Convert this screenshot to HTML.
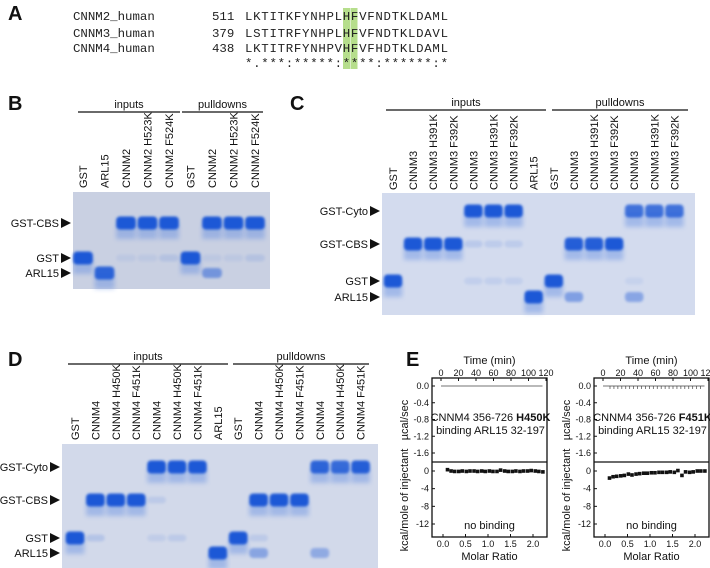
<!DOCTYPE html>
<html><head><meta charset="utf-8"><style>
html,body{margin:0;padding:0;background:#fff;}
svg{display:block;font-family:"Liberation Sans",Arial,sans-serif;}
.mono{font-family:"Liberation Mono","DejaVu Sans Mono",monospace;font-size:12.4px;fill:#222;}
.pl{font-size:20px;font-weight:bold;fill:#111;}
.lb{font-size:11px;fill:#111;}
.tk{font-size:9px;fill:#111;}
</style></head><body>
<svg id="fig" width="710" height="568" viewBox="0 0 710 568" xmlns="http://www.w3.org/2000/svg">
<defs>
<filter id="blur" x="-20%" y="-50%" width="140%" height="200%"><feGaussianBlur stdDeviation="1.3"/></filter>
<filter id="blur2" x="-20%" y="-50%" width="140%" height="300%"><feGaussianBlur stdDeviation="2.5"/></filter>
</defs>
<g>
<text class="pl" x="8" y="20">A</text>
<rect x="343" y="8" width="7" height="61" fill="#b6de8c"/>
<rect x="350.5" y="8" width="7" height="61" fill="#b6de8c"/>
<text class="mono" x="73" y="20">CNNM2_human</text>
<text class="mono" x="73" y="37">CNNM3_human</text>
<text class="mono" x="73" y="52">CNNM4_human</text>
<text class="mono" x="212" y="20">511</text>
<text class="mono" x="212" y="37">379</text>
<text class="mono" x="212" y="52">438</text>
<text class="mono" x="245" y="20" textLength="203">LKTITKFYNHPLHFVFNDTKLDAML</text>
<text class="mono" x="245" y="37" textLength="203">LSTITRFYNHPLHFVFNDTKLDAVL</text>
<text class="mono" x="245" y="52" textLength="203">LKTITRFYNHPVHFVFHDTKLDAML</text>
<text class="mono" x="245" y="67" textLength="203">*.***:*****:****:******:*</text>
</g>
<text class="pl" x="8" y="110">B</text>
<text class="pl" x="290" y="110">C</text>
<text class="pl" x="8" y="366">D</text>
<text class="pl" x="406" y="366">E</text>
<g id="gels"></g>
<g id="itc"></g>
</svg>
<script>
const NS="http://www.w3.org/2000/svg";
function mk(tag,attrs,parent,txt){const e=document.createElementNS(NS,tag);for(const k in attrs)e.setAttribute(k,attrs[k]);if(txt!==undefined)e.textContent=txt;parent.appendChild(e);return e;}

const gelBLanes=["GST","ARL15","CNNM2","CNNM2 H523K","CNNM2 F524K","GST","CNNM2","CNNM2 H523K","CNNM2 F524K"];
const gelBMarkers=["GST-CBS","GST","ARL15"];
const gelBBands=[[0,1,1],[1,2,0.9],[2,0,1],[3,0,1],[4,0,1],[5,1,1],[6,0,1],[7,0,1],[8,0,1],[6,2,0.55],[2,1,0.15],[3,1,0.15],[4,1,0.25],[6,1,0.15],[7,1,0.15],[8,1,0.25]];
const gelCLanes=["GST","CNNM3","CNNM3 H391K","CNNM3 F392K","CNNM3","CNNM3 H391K","CNNM3 F392K","ARL15","GST","CNNM3","CNNM3 H391K","CNNM3 F392K","CNNM3","CNNM3 H391K","CNNM3 F392K"];
const gelCMarkers=["GST-Cyto","GST-CBS","GST","ARL15"];
const gelCBands=[[0,2,1],[1,1,1],[2,1,1],[3,1,1],[4,0,1],[5,0,1],[6,0,1],[7,3,1],[8,2,1],[9,1,0.95],[10,1,0.95],[11,1,1],[12,0,0.8],[13,0,0.8],[14,0,0.8],[9,3,0.5],[12,3,0.45],[4,1,0.3],[5,1,0.25],[6,1,0.25],[4,2,0.2],[5,2,0.2],[6,2,0.2],[12,2,0.15]];
const gelDLanes=["GST","CNNM4","CNNM4 H450K","CNNM4 F451K","CNNM4","CNNM4 H450K","CNNM4 F451K","ARL15","GST","CNNM4","CNNM4 H450K","CNNM4 F451K","CNNM4","CNNM4 H450K","CNNM4 F451K"];
const gelDMarkers=["GST-Cyto","GST-CBS","GST","ARL15"];
const gelDBands=[[0,2,1],[1,1,1],[2,1,1],[3,1,1],[4,0,1],[5,0,1],[6,0,1],[7,3,1],[8,2,1],[9,1,1],[10,1,1],[11,1,1],[12,0,0.9],[13,0,0.85],[14,0,0.95],[9,3,0.45],[12,3,0.4],[1,2,0.35],[4,2,0.2],[5,2,0.25],[4,1,0.25],[9,2,0.25]];

const gels=[
 {id:"b",lanes:gelBLanes,markers:gelBMarkers,bands:gelBBands,x0:73,x1:270,y0:192,y1:289,laneX0:83,laneDx:21.5,markerY:[223,258,273],labBottom:188,lineY:112,groups:[["inputs",78,180],["pulldowns",182,263]],bg:"#c9d0e2"},
 {id:"c",lanes:gelCLanes,markers:gelCMarkers,bands:gelCBands,x0:382,x1:695,y0:193,y1:315,laneX0:393,laneDx:20.1,markerY:[211,244,281,297],labBottom:190,lineY:110,groups:[["inputs",386,546],["pulldowns",552,688]],bg:"#d3dbee"},
 {id:"d",lanes:gelDLanes,markers:gelDMarkers,bands:gelDBands,x0:62,x1:378,y0:444,y1:568,laneX0:75,laneDx:20.4,markerY:[467,500,538,553],labBottom:440,lineY:364,groups:[["inputs",68,228],["pulldowns",233,369]],bg:"#d2d9ea"}
];
const gRoot=document.getElementById("gels");
gels.forEach(G=>{
 const g=mk("g",{},gRoot);
 
 
 const bg=mk("rect",{x:G.x0,y:G.y0,width:G.x1-G.x0,height:G.y1-G.y0,fill:G.bg},g);
 
 
 G.groups.forEach(gr=>{
  const ln=mk("line",{x1:gr[1],x2:gr[2],y1:G.lineY,y2:G.lineY,stroke:"#111","stroke-width":1.3},g);
  
  
  const t=mk("text",{x:(gr[1]+gr[2])/2,y:G.lineY-4,"text-anchor":"middle",class:"lb"},g,gr[0]);
  
  
 });
 G.lanes.forEach((name,i)=>{
  const x=G.laneX0+i*G.laneDx;
  const t=mk("text",{x:0,y:0,class:"lb",transform:`translate(${x+4},${G.labBottom}) rotate(-90)`},g,name);
  
  
 });
 G.markers.forEach((m,i)=>{
  const y=G.markerY[i];
  const t=mk("text",{x:G.x0-14,y:y+4,"text-anchor":"end",class:"lb"},g,m);
  
  
  const p=mk("path",{d:`M${G.x0-12} ${y-5}L${G.x0-2} ${y}L${G.x0-12} ${y+5}Z`,fill:"#111"},g);
  
  
 });
 G.bands.forEach(b=>{
  const x=G.laneX0+b[0]*G.laneDx, y=G.markerY[b[1]], a=b[2];
  const w=G.laneDx*0.92;
  const strong=a>0.7;
  if(strong){
   const s=mk("rect",{x:x-w/2,y:y+2,width:w,height:14,fill:"#4a7be0",opacity:0.35,filter:"url(#blur2)"},g);
   
   
  }
  const h=strong?13:(a>=0.4?10:7);
  const op=strong?a:(a>=0.4?a*0.9:a*0.45);
  const r=mk("rect",{x:x-w/2,y:y-h/2,width:w,height:h,rx:4,fill:"#1c58d6",opacity:op,filter:"url(#blur)"},g);
  
  
 });
});

const timeTicks=[0,20,40,60,80,100,120];
const powerTicks=[0.0,-0.4,-0.8,-1.2,-1.6];
const heatTicks=[0,-4,-8,-12];
const ratioTicks=[0.0,0.5,1.0,1.5,2.0];
const ratioLeft=[0.1,0.18,0.26,0.35,0.43,0.52,0.6,0.69,0.77,0.86,0.94,1.03,1.11,1.2,1.28,1.37,1.45,1.54,1.62,1.71,1.79,1.88,1.96,2.05,2.13,2.22];
const heatLeft=[0.3,0,-0.1,-0.1,0,-0.1,0,0,-0.1,0,-0.1,0,-0.1,-0.1,0.2,0,-0.1,-0.1,0,-0.1,0,0,0.1,0,-0.1,-0.2];
const ratioRight=[0.1,0.18,0.26,0.35,0.43,0.52,0.6,0.69,0.77,0.86,0.94,1.03,1.11,1.2,1.28,1.37,1.45,1.54,1.62,1.71,1.79,1.88,1.96,2.05,2.13,2.22];
const heatRight=[-1.6,-1.3,-1.2,-1.1,-1.0,-0.7,-0.9,-0.7,-0.6,-0.5,-0.5,-0.4,-0.4,-0.3,-0.3,-0.3,-0.2,-0.3,0.1,-1.0,-0.2,-0.3,-0.2,0.0,0.0,0.0];
const plots=[{dx:0,mut:"H450K",r:ratioLeft,h:heatLeft,noise:false},{dx:162,mut:"F451K",r:ratioRight,h:heatRight,noise:true}];
const iRoot=document.getElementById("itc");
plots.forEach(P=>{
 const g=mk("g",{transform:`translate(${P.dx},0)`},iRoot);
 
 
 const L=432,R=547,T=378,M=462,B=537;
 const tx=t=>441+(t/120)*105, py=v=>386+(-v/1.6)*67, hy=v=>471+(-v/12)*53, rx=v=>443+v*45;
 const box=mk("rect",{x:L,y:T,width:R-L,height:B-T,fill:"none",stroke:"#111","stroke-width":1.3},g);
 
 
 const dv=mk("line",{x1:L,x2:R,y1:M,y2:M,stroke:"#111","stroke-width":1.3},g);
 
 
 const tt=mk("text",{x:(L+R)/2,y:364,"text-anchor":"middle",class:"lb"},g,"Time (min)");
 
 
 timeTicks.forEach(t=>{
  const x=tx(t);
  const tl=mk("text",{x:x,y:376,"text-anchor":"middle",class:"tk"},g,String(t));
  
  
  mk("line",{x1:x,x2:x,y1:T,y2:T+3,stroke:"#111"},g);
 });
 powerTicks.forEach(v=>{
  const y=py(v);
  const tl=mk("text",{x:L-3,y:y+3,"text-anchor":"end",class:"tk"},g,v.toFixed(1));
  
  
  mk("line",{x1:L,x2:L+3,y1:y,y2:y,stroke:"#111"},g);
 });
 heatTicks.forEach(v=>{
  const y=hy(v);
  const tl=mk("text",{x:L-3,y:y+3,"text-anchor":"end",class:"tk"},g,String(v));
  
  
  mk("line",{x1:L,x2:L+3,y1:y,y2:y,stroke:"#111"},g);
 });
 ratioTicks.forEach(v=>{
  const x=rx(v);
  const tl=mk("text",{x:x,y:547,"text-anchor":"middle",class:"tk"},g,v.toFixed(1));
  
  
  mk("line",{x1:x,x2:x,y1:B,y2:B-3,stroke:"#111"},g);
 });
 const xt=mk("text",{x:(L+R)/2,y:560,"text-anchor":"middle",class:"lb"},g,"Molar Ratio");
 
 
 const y1=mk("text",{x:0,y:0,class:"lb","font-size":"10","text-anchor":"middle",transform:`translate(408,420) rotate(-90)`},g,"µcal/sec");
 
 
 const y2=mk("text",{x:0,y:0,class:"lb","font-size":"10","text-anchor":"middle",transform:`translate(408,500) rotate(-90)`},g,"kcal/mole of injectant");
 
 
 const t1=mk("text",{x:(L+R)/2+1,y:421,"text-anchor":"middle",class:"lb","font-size":"10"},g);
 
 
 mk("tspan",{},t1,"CNNM4 356-726 ");
 mk("tspan",{"font-weight":"bold"},t1,P.mut);
 const t2=mk("text",{x:(L+R)/2+1,y:434,"text-anchor":"middle",class:"lb","font-size":"10.5"},g,"binding ARL15 32-197");
 
 
 const nb=mk("text",{x:(L+R)/2,y:529,"text-anchor":"middle",class:"lb","font-size":"12"},g,"no binding");
 
 
 const trace=mk("line",{x1:tx(0),x2:tx(116),y1:py(0),y2:py(0),stroke:"#444","stroke-width":0.8},g);
 
 
 if(P.noise){for(let t=8;t<=112;t+=4.5){mk("line",{x1:tx(t),x2:tx(t),y1:py(0),y2:py(0)+3,stroke:"#444","stroke-width":0.7},g);}}
 P.r.forEach((v,i)=>{
  const pt=mk("rect",{x:rx(v)-1.8,y:hy(P.h[i])-1.8,width:3.6,height:3.6,fill:"#111"},g);
  
  
 });
});
</script>
</body></html>
